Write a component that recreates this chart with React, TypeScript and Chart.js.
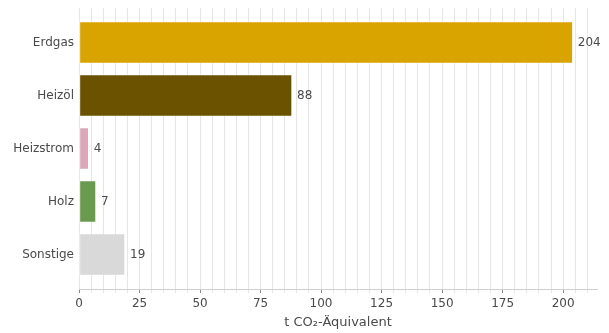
import React, { useEffect, useRef } from "react";
import { Chart, registerables } from "chart.js";
Chart.register(...registerables);

const categories = ["Erdgas", "Heizöl", "Heizstrom", "Holz", "Sonstige"];
const values = [204, 88, 4, 7, 19];
const colors = ["#D9A300", "#6A5200", "#DBA7B9", "#6A9A4E", "#D9D9D9"];
const xTickLabels = [0, 25, 50, 75, 100, 125, 150, 175, 200];
const xTitle = "t CO₂-Äquivalent";

const FONT = "'DejaVu Sans', sans-serif";
const TEXT = "#4a4a4a";

const valueLabels = {
  id: "valueLabels",
  afterDatasetsDraw(chart: any) {
    const ctx = chart.ctx;
    const meta = chart.getDatasetMeta(0);
    ctx.save();
    ctx.font = `12px ${FONT}`;
    ctx.fillStyle = TEXT;
    ctx.textAlign = "left";
    ctx.textBaseline = "middle";
    meta.data.forEach((bar: any, i: number) => {
      ctx.fillText(String(values[i]), bar.x + 5, bar.y);
    });
    ctx.restore();
  },
};

export default function App() {
  const ref = useRef<HTMLCanvasElement>(null);
  useEffect(() => {
    const chart = new Chart(ref.current!, {
      type: "bar",
      data: {
        datasets: [
          {
            data: values.map((v, i) => ({ x: v, y: i })),
            backgroundColor: colors,
            borderColor: "rgba(255,255,255,0.3)",
            borderWidth: 1,
            borderSkipped: false,
            barThickness: 42,
          },
        ],
      },
      plugins: [valueLabels],
      options: {
        indexAxis: "y",
        animation: false,
        responsive: false,
        maintainAspectRatio: false,
        layout: { padding: { left: 0, right: 12, top: 8, bottom: 0 } },
        plugins: { legend: { display: false }, tooltip: { enabled: false } },
        scales: {
          x: {
            type: "linear",
            min: 0,
            max: 214,
            afterBuildTicks: (scale: any) => {
              const t = [];
              for (let v = 0; v <= 210; v += 5) t.push({ value: v });
              scale.ticks = t;
            },
            afterFit: (scale: any) => {
              scale.height = 44;
              scale.paddingLeft = 0;
              scale.paddingRight = 0;
            },
            ticks: {
              autoSkip: false,
              maxRotation: 0,
              padding: 4,
              color: TEXT,
              font: { family: FONT, size: 12 },
              callback: (v: any) => (xTickLabels.includes(v) ? String(v) : ""),
            },
            grid: {
              color: "#e6e6e6",
              lineWidth: 1,
              tickLength: 4,
              tickColor: (c: any) => (c.tick && xTickLabels.includes(c.tick.value) ? "#888888" : "#e6e6e6"),
            },
            border: { display: true, color: "#d0d0d0" },
            title: {
              display: true,
              text: xTitle,
              color: TEXT,
              font: { family: FONT, size: 13 },
              padding: { top: 0, bottom: 3 },
            },
          },
          y: {
            type: "linear",
            reverse: true,
            offset: false,
            min: -0.65,
            max: 4.65,
            afterBuildTicks: (scale: any) => {
              scale.ticks = categories.map((_, i) => ({ value: i }));
            },
            afterFit: (scale: any) => {
              scale.width = 79;
              scale.paddingTop = 0;
              scale.paddingBottom = 0;
            },
            ticks: {
              autoSkip: false,
              padding: 5,
              color: TEXT,
              font: { family: FONT, size: 12 },
              callback: (v: any) => categories[v] ?? "",
            },
            grid: { display: false, drawTicks: false, offset: false },
            border: { display: false },
          },
        },
      },
    } as any);
    return () => chart.destroy();
  }, []);
  return (
    <div style={{ position: "fixed", left: 0, top: 0, width: 609, height: 333, background: "#fff" }}>
      <canvas ref={ref} width={609} height={333} />
    </div>
  );
}
